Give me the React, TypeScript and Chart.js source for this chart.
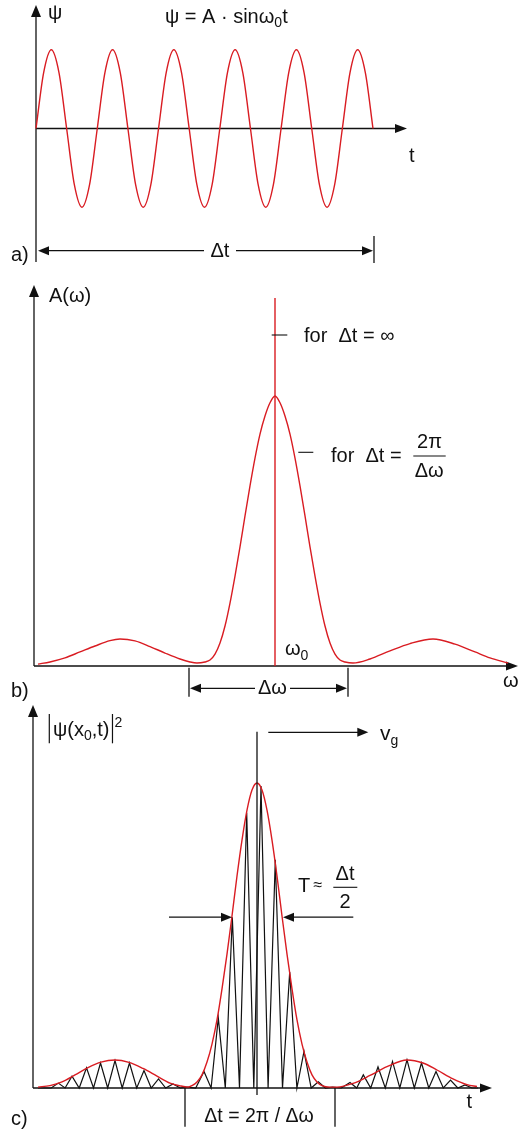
import React, { useEffect, useRef } from "react";
import { Chart, registerables } from "chart.js";

Chart.register(...registerables);

const W = 519;
const H = 1132;
const RED = "#d91c22";
const INK = "#111111";
const FF = '"Liberation Sans", Arial, Helvetica, sans-serif';
const FS = 20;
const SUB = 14;

// ---------- a) psi = A sin(w0 t), t in periods ----------
const tA = [
  0, 0.125, 0.25, 0.375, 0.5, 0.625, 0.75, 0.875,
  1, 1.125, 1.25, 1.375, 1.5, 1.625, 1.75, 1.875,
  2, 2.125, 2.25, 2.375, 2.5, 2.625, 2.75, 2.875,
  3, 3.125, 3.25, 3.375, 3.5, 3.625, 3.75, 3.875,
  4, 4.125, 4.25, 4.375, 4.5, 4.625, 4.75, 4.875,
  5, 5.125, 5.25, 5.375, 5.5,
];
const psiA = [
  0, 0.71, 1, 0.71, 0, -0.71, -1, -0.71,
  0, 0.71, 1, 0.71, 0, -0.71, -1, -0.71,
  0, 0.71, 1, 0.71, 0, -0.71, -1, -0.71,
  0, 0.71, 1, 0.71, 0, -0.71, -1, -0.71,
  0, 0.71, 1, 0.71, 0, -0.71, -1, -0.71,
  0, 0.71, 1, 0.71, 0,
];

// ---------- b) spectrum A(omega), omega relative to omega0 ----------
const omegaB = [
  -23.7, -22.5, -21, -19.5, -18, -16.5, -15.5, -14, -12.5, -11, -9.5, -8.5, -7.8,
  -7, -6.5, -6, -5.5, -5, -4.5, -4, -3.5, -3, -2.5, -2, -1.5, -1, -0.5,
  0,
  0.5, 1, 1.5, 2, 2.5, 3, 3.5, 4, 4.5, 5, 5.5, 6, 6.5, 7, 7.8,
  9.5, 11.5, 13.5, 15.8, 18, 20, 21.5, 23.3,
];
const ampB = [
  0.007, 0.015, 0.03, 0.052, 0.074, 0.094, 0.1, 0.093, 0.072, 0.048, 0.026, 0.015, 0.011,
  0.015, 0.022, 0.044, 0.085, 0.148, 0.233, 0.333, 0.441, 0.556, 0.667, 0.77, 0.859, 0.926, 0.975,
  1,
  0.975, 0.926, 0.859, 0.77, 0.667, 0.556, 0.441, 0.333, 0.233, 0.148, 0.085, 0.044, 0.022, 0.015, 0.011,
  0.026, 0.056, 0.083, 0.1, 0.081, 0.052, 0.03, 0.011,
];
// infinite wave train: a single line at omega0
const omegaLineB = [0, 0];
const ampLineB = [0, 1.363];

// ---------- c) |psi(x0,t)|^2, t relative to pulse centre ----------
const tEnvC = [
  -21.9, -20.7, -19.5, -18.2, -16.9, -15.6, -14.2, -12.8, -11.4, -10, -8.7, -7.7, -6.9,
  -6.5, -6, -5.5, -5, -4.5, -4, -3.5, -3, -2.5, -2, -1.5, -1, -0.5,
  0,
  0.5, 1, 1.5, 2, 2.5, 3, 3.5, 4, 4.5, 5, 5.5, 6, 6.5,
  7.3, 8, 9.6, 11.3, 13, 15, 16.6, 18, 19.6, 21, 22,
];
const envC = [
  0.003, 0.008, 0.02, 0.043, 0.067, 0.085, 0.092, 0.084, 0.064, 0.039, 0.016, 0.007, 0.003,
  0.008, 0.02, 0.043, 0.085, 0.144, 0.223, 0.325, 0.439, 0.564, 0.695, 0.813, 0.911, 0.977,
  1,
  0.977, 0.911, 0.813, 0.695, 0.564, 0.439, 0.325, 0.223, 0.144, 0.085, 0.043, 0.02, 0.008,
  0.003, 0.003, 0.015, 0.041, 0.07, 0.092, 0.082, 0.059, 0.03, 0.011, 0.005,
];
const tOscC = [
  -21.9, -20.58, -19.87, -19.19, -18.5, -17.78, -17.05, -16.35, -15.65, -14.93,
  -14.2, -13.48, -12.75, -12.03, -11.3, -10.58, -9.85, -9.13, -8.4, -7.68,
  -6.95, -6.13, -5.3, -4.59, -3.87, -3.17, -2.47, -1.75, -1.03, -0.32,
  0.4, 1.11, 1.83, 2.55, 3.27, 3.99, 4.7, 5.42, 6.13, 6.84,
  7.55, 8.43, 9.3, 9.97, 10.63, 11.37, 12.1, 12.83, 13.55, 14.28,
  15.0, 15.73, 16.45, 17.18, 17.9, 18.63, 19.35, 20.08, 20.8, 21.5, 22.1,
];
const oscC = [
  0, 0, 0.016, 0, 0.039, 0, 0.066, 0, 0.082, 0,
  0.09, 0, 0.082, 0, 0.057, 0, 0.03, 0, 0.013, 0,
  0.003, 0, 0.054, 0, 0.23, 0, 0.56, 0, 0.902, 0,
  0.99, 0, 0.748, 0, 0.38, 0, 0.12, 0, 0.02, 0,
  0.003, 0, 0.018, 0, 0.043, 0, 0.069, 0, 0.087, 0,
  0.092, 0, 0.082, 0, 0.054, 0, 0.026, 0, 0.01, 0, 0,
];

const pts = (xs: number[], ys: number[]) => xs.map((x, i) => ({ x, y: ys[i] }));

function seg(ctx: CanvasRenderingContext2D, x1: number, y1: number, x2: number, y2: number, w = 1.3, c = INK) {
  ctx.save();
  ctx.strokeStyle = c;
  ctx.lineWidth = w;
  ctx.beginPath();
  ctx.moveTo(x1, y1);
  ctx.lineTo(x2, y2);
  ctx.stroke();
  ctx.restore();
}
function head(ctx: CanvasRenderingContext2D, x: number, y: number, dx: number, dy: number, len = 11, hw = 4.5) {
  const bx = x - dx * len;
  const by = y - dy * len;
  const px = -dy;
  const py = dx;
  ctx.save();
  ctx.fillStyle = INK;
  ctx.beginPath();
  ctx.moveTo(x, y);
  ctx.lineTo(bx + px * hw, by + py * hw);
  ctx.lineTo(bx - px * hw, by - py * hw);
  ctx.closePath();
  ctx.fill();
  ctx.restore();
}
function txt(ctx: CanvasRenderingContext2D, s: string, x: number, y: number, size = FS, align: CanvasTextAlign = "left") {
  ctx.save();
  ctx.fillStyle = INK;
  ctx.font = `${size}px ${FF}`;
  ctx.textAlign = align;
  ctx.textBaseline = "alphabetic";
  ctx.fillText(s, x, y);
  const w = ctx.measureText(s).width;
  ctx.restore();
  return w;
}
function runs(ctx: CanvasRenderingContext2D, parts: [string, number, number][], x: number, y: number) {
  let cx = x;
  for (const [s, size, dy] of parts) cx += txt(ctx, s, cx, y + dy, size);
  return cx;
}

function axes(chart: any, yAxisBottom: number) {
  const { ctx, chartArea: ca, scales } = chart;
  const y0 = scales.y.getPixelForValue(0);
  const x0 = ca.left;
  seg(ctx, x0, ca.top + 8, x0, yAxisBottom);
  head(ctx, x0, ca.top, 0, -1, 12, 5);
  seg(ctx, x0, y0, ca.right - 8, y0);
  head(ctx, ca.right, y0, 1, 0, 12, 4.5);
}

const decoA = {
  id: "decoA",
  beforeDatasetsDraw(chart: any) {
    axes(chart, 262);
  },
  afterDatasetsDraw(chart: any) {
    const { ctx, scales } = chart;
    const x = scales.x;
    txt(ctx, "ψ", 48, 18.5);
    runs(ctx, [["ψ = A · sin", FS, 0], ["ω", FS, 0], ["0", SUB, 4], ["t", FS, 0]], 165, 22.5);
    txt(ctx, "t", 409, 162);
    txt(ctx, "a)", 11, 261);
    const yd = 250.7;
    const xl = x.getPixelForValue(0);
    const xr = x.getPixelForValue(5.5);
    seg(ctx, xl + 8, yd, 204, yd);
    head(ctx, xl + 2, yd, -1, 0);
    seg(ctx, 236, yd, xr - 8, yd);
    head(ctx, xr, yd, 1, 0);
    seg(ctx, xr + 1, 236, xr + 1, 263);
    txt(ctx, "Δt", 210.5, 257);
  },
};

const decoB = {
  id: "decoB",
  beforeDatasetsDraw(chart: any) {
    axes(chart, chart.scales.y.getPixelForValue(0));
  },
  afterDatasetsDraw(chart: any) {
    const { ctx, scales } = chart;
    const x = scales.x;
    txt(ctx, "A(ω)", 49, 302);
    seg(ctx, 271.7, 335, 287.3, 335, 1.1);
    txt(ctx, "for  Δt = ∞", 304, 341.7);
    seg(ctx, 298.3, 452.3, 313.3, 452.3, 1.1);
    txt(ctx, "for  Δt =", 331, 461.7);
    txt(ctx, "2π", 429.5, 447.7, FS, "center");
    seg(ctx, 413.3, 456, 445.7, 456, 1.1);
    txt(ctx, "Δω", 429.2, 477.3, FS, "center");
    runs(ctx, [["ω", FS, 0], ["0", SUB, 5]], 285, 655);
    const xl = x.getPixelForValue(-8.6);
    const xr = x.getPixelForValue(7.3);
    const yd = 688.3;
    seg(ctx, xl, 667.7, xl, 696.7);
    seg(ctx, xr, 667.7, xr, 696.7);
    head(ctx, xl + 1, yd, -1, 0);
    seg(ctx, xl + 8, yd, 255, yd);
    seg(ctx, 290, yd, xr - 8, yd);
    head(ctx, xr - 1, yd, 1, 0);
    txt(ctx, "Δω", 258, 694.3);
    txt(ctx, "b)", 11, 697);
    txt(ctx, "ω", 503, 687.3);
  },
};

const decoC = {
  id: "decoC",
  beforeDatasetsDraw(chart: any) {
    axes(chart, chart.scales.y.getPixelForValue(0));
  },
  afterDatasetsDraw(chart: any) {
    const { ctx, scales } = chart;
    const x = scales.x;
    const y = scales.y;
    const xc = x.getPixelForValue(0);
    seg(ctx, xc, 731.7, xc, 1095);
    seg(ctx, 268.3, 732.3, 360, 732.3);
    head(ctx, 368.3, 732.3, 1, 0);
    runs(ctx, [["v", FS + 1, 0], ["g", SUB, 5]], 380, 740);
    const yT = y.getPixelForValue(0.56);
    const xL = x.getPixelForValue(-2.5);
    const xR = x.getPixelForValue(2.6);
    seg(ctx, 169, yT, xL - 8, yT);
    head(ctx, xL, yT, 1, 0);
    seg(ctx, 353.3, yT, xR + 8, yT);
    head(ctx, xR, yT, -1, 0);
    txt(ctx, "T", 298, 891.7);
    txt(ctx, "≈", 313.5, 889.5, 16);
    txt(ctx, "Δt", 345, 880, FS, "center");
    seg(ctx, 333.3, 887.3, 357.3, 887.3, 1.1);
    txt(ctx, "2", 345, 908.3, FS, "center");
    const t1 = x.getPixelForValue(-7.2);
    const t2 = x.getPixelForValue(7.8);
    const ya = y.getPixelForValue(0);
    seg(ctx, t1, ya, t1, 1126.7);
    seg(ctx, t2, ya, t2, 1126.7);
    txt(ctx, "Δt = 2π / Δω", 259, 1121.7, FS - 0.5, "center");
    txt(ctx, "c)", 11, 1125);
    txt(ctx, "t", 466.5, 1108.3);
    seg(ctx, 49.3, 714, 49.3, 743.3, 1.2);
    const end = runs(ctx, [["ψ(x", FS, 0], ["0", SUB, 4], [",t)", FS, 0]], 53, 736);
    seg(ctx, end + 3, 714, end + 3, 743.3, 1.2);
    txt(ctx, "2", end + 5, 726.7, SUB);
  },
};

function makeChart(
  canvas: HTMLCanvasElement,
  datasets: any[],
  xr: [number, number],
  yr: [number, number],
  pad: { left: number; right: number; top: number; bottom: number },
  plugin: any
) {
  return new Chart(canvas, {
    type: "line",
    data: { datasets },
    options: {
      responsive: false,
      maintainAspectRatio: false,
      animation: false,
      events: [],
      layout: { padding: pad },
      plugins: { legend: { display: false }, tooltip: { enabled: false }, title: { display: false } },
      scales: {
        x: { type: "linear", display: false, min: xr[0], max: xr[1] },
        y: { type: "linear", display: false, min: yr[0], max: yr[1] },
      },
      elements: { point: { radius: 0 } },
    } as any,
    plugins: [plugin],
  });
}

export default function App() {
  const ra = useRef<HTMLCanvasElement>(null);
  const rb = useRef<HTMLCanvasElement>(null);
  const rc = useRef<HTMLCanvasElement>(null);

  useEffect(() => {
    const line = (xs: number[], ys: number[], color: string, w: number, smooth: boolean) => ({
      data: pts(xs, ys),
      borderColor: color,
      borderWidth: w,
      pointRadius: 0,
      fill: false,
      clip: false,
      tension: 0,
      ...(smooth ? { cubicInterpolationMode: "monotone" } : {}),
    });
    const a = makeChart(
      ra.current!,
      [line(tA, psiA, RED, 1.4, true)],
      [0, 6.055],
      [-1.569, 1.569],
      { left: 36, right: W - 407, top: 5, bottom: H - 252 },
      decoA
    );
    const b = makeChart(
      rb.current!,
      [line(omegaLineB, ampLineB, RED, 1.4, false), line(omegaB, ampB, RED, 1.4, true)],
      [-24.1, 24.3],
      [0, 1.411],
      { left: 34, right: W - 518, top: 285, bottom: H - 666 },
      decoB
    );
    const c = makeChart(
      rc.current!,
      [line(tEnvC, envC, RED, 1.4, true), line(tOscC, oscC, INK, 1.2, false)],
      [-22.4, 23.5],
      [0, 1.2557],
      { left: 33, right: W - 492, top: 705, bottom: H - 1088 },
      decoC
    );
    return () => {
      a.destroy();
      b.destroy();
      c.destroy();
    };
  }, []);

  const cs: React.CSSProperties = { position: "absolute", left: 0, top: 0, width: W, height: H };
  return (
    <div style={{ position: "absolute", left: 0, top: 0, width: W, height: H, background: "#fff" }}>
      <canvas ref={ra} width={W} height={H} style={cs} />
      <canvas ref={rb} width={W} height={H} style={cs} />
      <canvas ref={rc} width={W} height={H} style={cs} />
    </div>
  );
}
